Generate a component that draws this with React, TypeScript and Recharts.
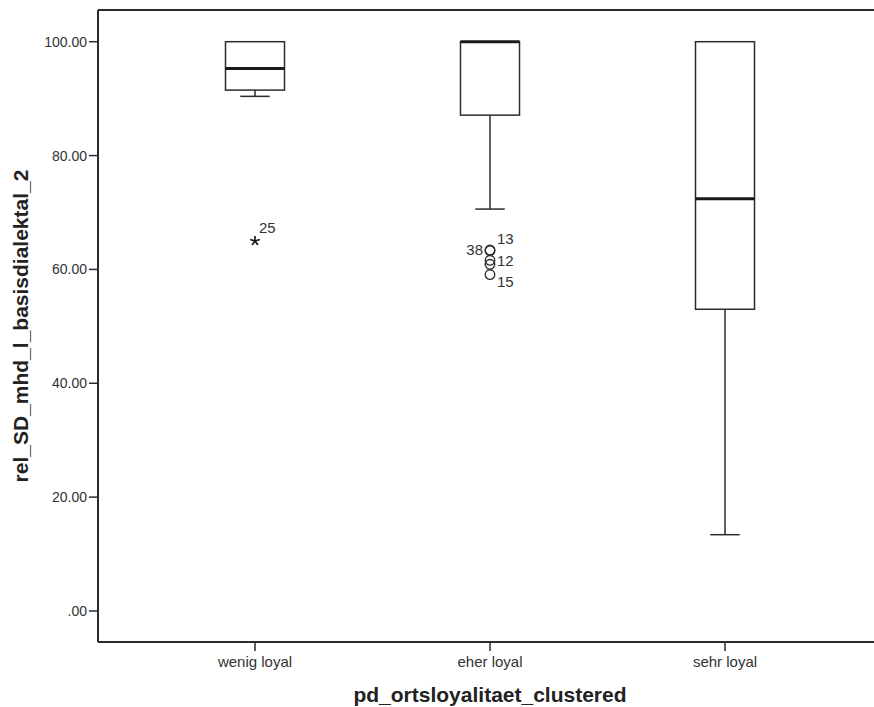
import { ComposedChart, Bar, Scatter, XAxis, YAxis, ReferenceLine } from 'recharts'

// five-number summaries per group
const categories = ['wenig loyal', 'eher loyal', 'sehr loyal']
const whiskerLow = [90.4, 70.6, 13.4]
const q1 = [91.5, 87.1, 53.0]
const median = [95.3, 100, 72.4]
const q3 = [100, 100, 100]
const whiskerHigh = [100, 100, 100]

// outliers ('o') and extreme values ('*') with their case numbers
const outlierGroup = ['wenig loyal', 'eher loyal', 'eher loyal', 'eher loyal', 'eher loyal', 'eher loyal']
const outlierValue = [65.0, 63.4, 63.3, 61.6, 60.9, 59.1]
const outlierCase = ['25', '38', '13', '', '12', '15']
const outlierKind = ['extreme', 'outlier', 'outlier', 'outlier', 'outlier', 'outlier']

const yTicks = [0, 20, 40, 60, 80, 100]
const yMin = -5.45
const yMax = 105.57

// where each case label sits relative to its marker
const labelDx = [4, -7, 7, 0, 7, 7]
const labelDy = [-13, -1, -12, 0, -4, 7]

const boxes = categories.map((name, i) => ({
  name,
  whiskerLow: whiskerLow[i],
  q1: q1[i],
  median: median[i],
  q3: q3[i],
  whiskerHigh: whiskerHigh[i],
}))

const outliers = outlierValue.map((value, i) => ({
  name: outlierGroup[i],
  value,
  caseNo: outlierCase[i],
  kind: outlierKind[i],
  dx: labelDx[i],
  dy: labelDy[i],
}))

const INK = '#2b2b2b'
const FONT = '"Liberation Sans", Arial, sans-serif'

function BoxShape(props: any) {
  const { x, y, width, height, payload } = props
  const top = Math.min(y, y + height)
  const h = Math.abs(height)
  const hi = payload.whiskerHigh
  const lo = payload.whiskerLow
  const py = (v: number) => (hi === lo ? top : top + (h * (hi - v)) / (hi - lo))
  const cx = x + width / 2
  const capHalf = width / 4
  const yQ1 = py(payload.q1)
  const yQ3 = py(payload.q3)
  const yMed = py(payload.median)
  const yLo = py(lo)
  const yHi = py(hi)
  return (
    <g>
      {yHi < yQ3 && <line x1={cx} x2={cx} y1={yHi} y2={yQ3} stroke={INK} strokeWidth={1.5} />}
      {yHi < yQ3 && <line x1={cx - capHalf} x2={cx + capHalf} y1={yHi} y2={yHi} stroke={INK} strokeWidth={1.5} />}
      <line x1={cx} x2={cx} y1={yQ1} y2={yLo} stroke={INK} strokeWidth={1.5} />
      <line x1={cx - capHalf} x2={cx + capHalf} y1={yLo} y2={yLo} stroke={INK} strokeWidth={1.5} />
      <rect x={x} y={yQ3} width={width} height={yQ1 - yQ3} fill="#fff" stroke={INK} strokeWidth={1.5} />
      <line x1={x} x2={x + width} y1={yMed} y2={yMed} stroke="#1a1a1a" strokeWidth={3} />
    </g>
  )
}

function OutlierShape(props: any) {
  const { cx, cy, payload } = props
  const arms = [90, 162, 234, 306, 18].map((deg) => {
    const r = (deg * Math.PI) / 180
    return { x: cx + 5 * Math.cos(r), y: cy - 5 * Math.sin(r) }
  })
  return (
    <g>
      {payload.kind === 'extreme' ? (
        arms.map((a, i) => <line key={i} x1={cx} y1={cy} x2={a.x} y2={a.y} stroke="#111" strokeWidth={1.6} />)
      ) : (
        <circle cx={cx} cy={cy} r={4.8} fill="none" stroke={INK} strokeWidth={1.3} />
      )}
      {payload.caseNo && (
        <text
          x={cx + payload.dx}
          y={cy + payload.dy}
          textAnchor={payload.dx < 0 ? 'end' : 'start'}
          dominantBaseline="central"
          fontSize={15}
          fontFamily={FONT}
          fill="#333"
        >
          {payload.caseNo}
        </text>
      )}
    </g>
  )
}

function YTitle(props: any) {
  const vb = props.viewBox
  const x = 20
  const y = vb.y + vb.height / 2
  return (
    <text
      x={x}
      y={y}
      transform={`rotate(-90 ${x} ${y})`}
      textAnchor="middle"
      dominantBaseline="central"
      fontSize={21}
      fontWeight="bold"
      fontFamily={FONT}
      fill="#222"
    >
      rel_SD_mhd_l_basisdialektal_2
    </text>
  )
}

export default function App() {
  return (
    <div style={{ position: 'absolute', left: 0, top: 0, background: '#fff' }}>
      <ComposedChart width={874} height={707} data={boxes} margin={{ top: 10, right: 0, bottom: 0, left: 0 }}>
        <XAxis
          dataKey="name"
          type="category"
          allowDuplicatedCategory={false}
          height={65}
          padding={{ left: 39.5, right: 31.5 }}
          tickSize={9}
          tickMargin={5}
          axisLine={{ stroke: INK, strokeWidth: 2 }}
          tickLine={{ stroke: INK, strokeWidth: 1.5 }}
          tick={{ fill: '#333', fontSize: 15, fontFamily: FONT }}
          label={{
            value: 'pd_ortsloyalitaet_clustered',
            position: 'insideBottom',
            offset: 5,
            dx: 4,
            fontSize: 21,
            fontWeight: 'bold',
            fontFamily: FONT,
            fill: '#222',
          }}
        />
        <YAxis
          type="number"
          domain={[yMin, yMax]}
          ticks={yTicks}
          allowDataOverflow
          width={98}
          tickSize={9}
          tickMargin={2}
          tickFormatter={(v: number) => (v === 0 ? '.00' : v.toFixed(2))}
          axisLine={{ stroke: INK, strokeWidth: 2 }}
          tickLine={{ stroke: INK, strokeWidth: 1.5 }}
          tick={{ fill: '#333', fontSize: 14, fontFamily: FONT }}
          label={{ content: YTitle }}
        />
        <ReferenceLine y={yMax} stroke={INK} strokeWidth={2} />
        <Bar
          dataKey={(d: any) => [d.whiskerLow, d.whiskerHigh]}
          barSize={59}
          shape={BoxShape}
          isAnimationActive={false}
        />
        <Scatter data={outliers} dataKey="value" shape={OutlierShape} isAnimationActive={false} />
      </ComposedChart>
    </div>
  )
}
